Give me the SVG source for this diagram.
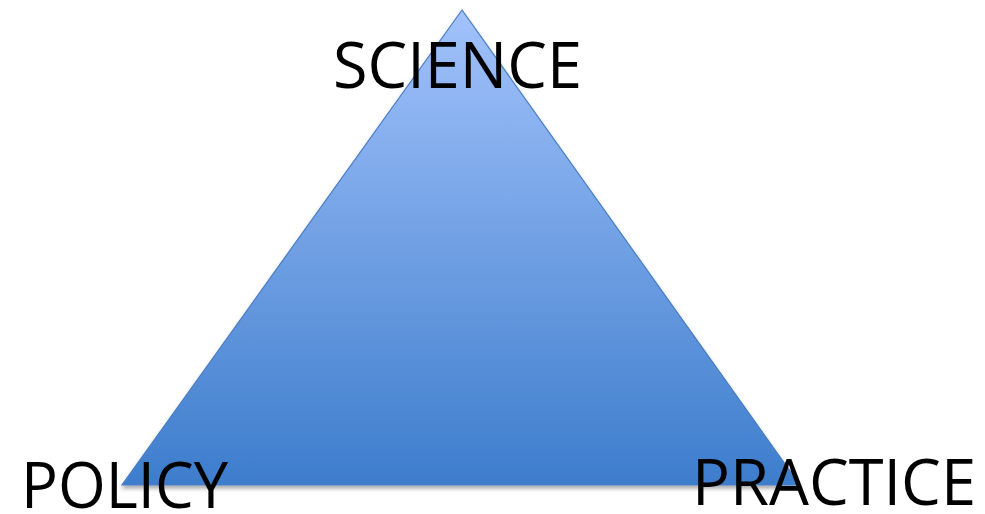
<svg xmlns="http://www.w3.org/2000/svg" width="985" height="514" viewBox="0 0 985 514">
<defs>
<linearGradient id="g" x1="0" y1="0" x2="0" y2="1">
<stop offset="0" stop-color="#a2c2fb"/>
<stop offset="1" stop-color="#3d7dcc"/>
</linearGradient>
<filter id="sh" x="-10%" y="-10%" width="120%" height="130%">
<feGaussianBlur in="SourceAlpha" stdDeviation="2"/>
<feOffset dx="0" dy="3"/>
<feComponentTransfer><feFuncA type="linear" slope="0.35"/></feComponentTransfer>
<feMerge><feMergeNode/><feMergeNode in="SourceGraphic"/></feMerge>
</filter>
<style>
.t{font-family:"Open Sans","Liberation Sans",sans-serif;font-size:64px;fill:#000}
</style>
</defs>
<rect width="985" height="514" fill="#fff"/>
<g id="triangle">
<polygon points="462,10 122,485 800,485" fill="url(#g)" stroke="#4a7ec4" stroke-width="1.2" filter="url(#sh)"/>
</g>
<g id="science"><text class="t" x="333" y="88" textLength="249" lengthAdjust="spacingAndGlyphs">SCIENCE</text></g>
<g id="policy"><text class="t" x="21" y="508" textLength="207" lengthAdjust="spacingAndGlyphs">POLICY</text></g>
<g id="practice"><text class="t" x="692" y="505" textLength="284" lengthAdjust="spacingAndGlyphs">PRACTICE</text></g>
</svg>
